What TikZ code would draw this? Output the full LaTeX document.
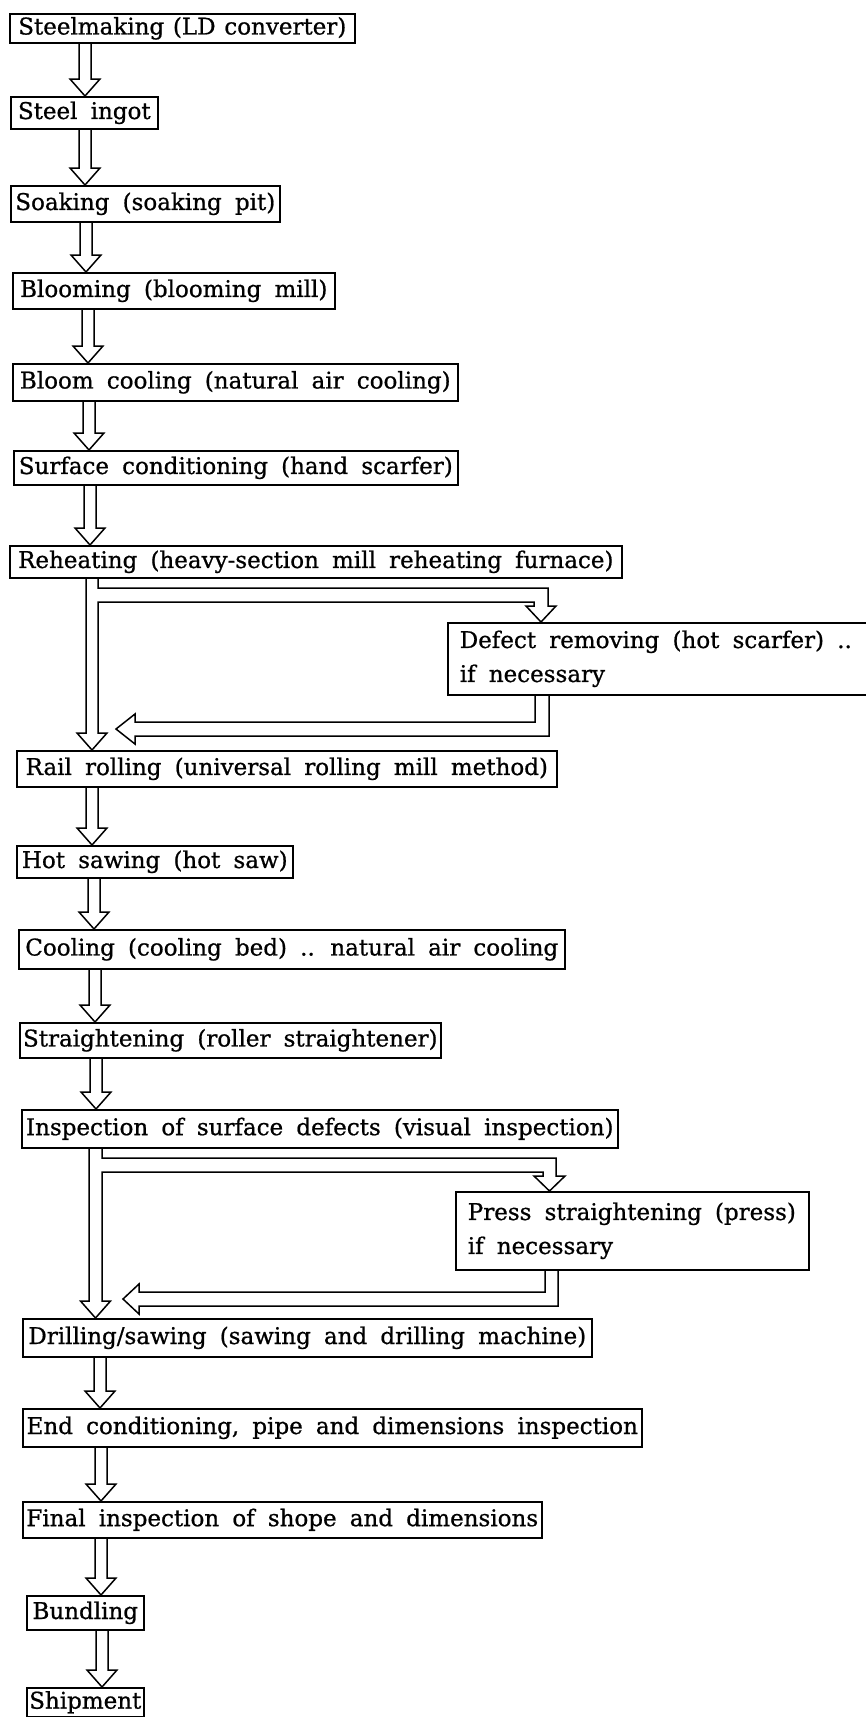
\documentclass[tikz,border=0pt]{standalone}
\usepackage{fontspec}
\setmainfont{DejaVu Serif}[WordSpace=1.8, FakeBold=0.8]
\usetikzlibrary{calc}

% a process step: name, left, top, right, bottom, text
\newcommand{\stepnode}[6]{%
  \node[stepbox, minimum width={#4-#2}, minimum height={#5-#3}] (#1) at (#2,#3) {#6};}

% hollow double-line arrow from the bottom of #1 to the top of #2, axis at x = #3
\newcommand{\flowarrow}[3]{%
  \coordinate (fa-a) at (#3,0);
  \coordinate (fa-s) at (#1.south -| fa-a);
  \coordinate (fa-t) at (#2.north -| fa-a);
  \draw[arrowline] ($(fa-s)+(-6,0)$) -- ($(fa-t)+(-6,-17)$) -- ($(fa-t)+(-15,-17)$)
    -- (fa-t) -- ($(fa-t)+(15,-17)$) -- ($(fa-t)+(6,-17)$) -- ($(fa-s)+(6,0)$);}

\begin{document}
\begin{tikzpicture}[x=1pt, y=-1pt,
  stepbox/.style={draw, line width=1.6pt, anchor=north west, inner xsep=0pt, inner ysep=0pt,
    font=\fontsize{23}{28}\selectfont},
  notebox/.style={draw, line width=1.6pt, anchor=north west, inner xsep=12pt, inner ysep=0pt,
    align=left, font=\fontsize{23}{34}\selectfont},
  arrowline/.style={line width=1.5pt, line join=miter}]
\useasboundingbox (0,0) rectangle (866,1717);

% main sequence of steps
\stepnode{s1}{9}{13}{354}{42}{\spaceskip=0.38em\relax Steelmaking (LD converter)}
\stepnode{s2}{10}{96}{157}{128}{Steel ingot}
\stepnode{s3}{10}{185}{279}{221}{Soaking (soaking pit)}
\stepnode{s4}{12}{272}{334}{308}{Blooming (blooming mill)}
\stepnode{s5}{12}{363}{457}{400}{Bloom cooling (natural air cooling)}
\stepnode{s6}{13}{450}{457}{484}{Surface conditioning (hand scarfer)}
\stepnode{s7}{9}{545}{621}{577}{Reheating (heavy-section mill reheating furnace)}
\node[notebox, minimum width=458, minimum height=72, text width=434] (rmv) at (447,622)
  {\spaceskip=0pt\relax\mbox{Defect removing (hot scarfer) ..}\\if necessary};
\stepnode{s9}{16}{750}{556}{786}{Rail rolling (universal rolling mill method)}
\stepnode{s10}{16}{845}{292}{877}{Hot sawing (hot saw)}
\stepnode{s11}{18}{929}{564}{968}{Cooling (cooling bed) .. natural air cooling}
\stepnode{s12}{19}{1022}{440}{1057}{Straightening (roller straightener)}
\stepnode{s13}{21}{1109}{617}{1147}{Inspection of surface defects (visual inspection)}
\node[notebox, minimum width=353, minimum height=78, text width=329] (prs) at (455,1191)
  {\spaceskip=0pt\relax\mbox{Press straightening (press)}\\if necessary};
\stepnode{s15}{22}{1318}{591}{1356}{Drilling/sawing (sawing and drilling machine)}
\stepnode{s16}{22}{1408}{641}{1446}{End conditioning, pipe and dimensions inspection}
\stepnode{s17}{22}{1501}{541}{1537}{Final inspection of shope and dimensions}
\stepnode{s18}{26}{1595}{143}{1629}{Bundling}
\stepnode{s19}{26}{1687}{143}{1716}{Shipment}

% straight arrows between consecutive steps
\flowarrow{s1}{s2}{85}
\flowarrow{s2}{s3}{85}
\flowarrow{s3}{s4}{86}
\flowarrow{s4}{s5}{88}
\flowarrow{s5}{s6}{89}
\flowarrow{s6}{s7}{90}
\flowarrow{s9}{s10}{92}
\flowarrow{s10}{s11}{94}
\flowarrow{s11}{s12}{95}
\flowarrow{s12}{s13}{96}
\flowarrow{s15}{s16}{100}
\flowarrow{s16}{s17}{101}
\flowarrow{s17}{s18}{101}
\flowarrow{s18}{s19}{102}

% reheating: straight on to rail rolling, with a branch to defect removing
\coordinate (ra) at (92,0);
\coordinate (rd) at (541,0);
\draw[arrowline] ($(s7.south -| ra)+(6,0)$) -- (98,588) -- (548,588) -- (548,606) -- (556,606)
  -- (rmv.north -| rd) -- (526,606) -- (534,606) -- (534,602) -- (98,602) -- (98,733)
  -- (107,733) -- (s9.north -| ra) -- (77,733) -- (86,733) -- ($(s7.south -| ra)+(-6,0)$);

% return from defect removing
\coordinate (ri) at (535,0);
\coordinate (ro) at (549,0);
\coordinate (rtip) at (116,729);
\draw[arrowline] (rmv.south -| ri) -- (535,722) -- (135,722) -- (135,714) -- (rtip)
  -- (135,744) -- (135,736) -- (549,736) -- (rmv.south -| ro);

% inspection: straight on to drilling, with a branch to press straightening
\coordinate (pa) at (95.5,0);
\coordinate (pd) at (549.5,0);
\draw[arrowline] ($(s13.south -| pa)+(6.5,0)$) -- (102,1158) -- (556,1158) -- (556,1176)
  -- (565,1176) -- (prs.north -| pd) -- (534,1176) -- (543,1176) -- (543,1172) -- (102,1172)
  -- (102,1301) -- (110.5,1301) -- (s15.north -| pa) -- (80.5,1301) -- (89,1301)
  -- ($(s13.south -| pa)+(-6.5,0)$);

% return from press straightening
\coordinate (pi) at (545,0);
\coordinate (po) at (558,0);
\coordinate (ptip) at (123,1299);
\draw[arrowline] (prs.south -| pi) -- (545,1292) -- (139,1292) -- (139,1284) -- (ptip)
  -- (139,1314) -- (139,1306) -- (558,1306) -- (prs.south -| po);
\end{tikzpicture}
\end{document}
